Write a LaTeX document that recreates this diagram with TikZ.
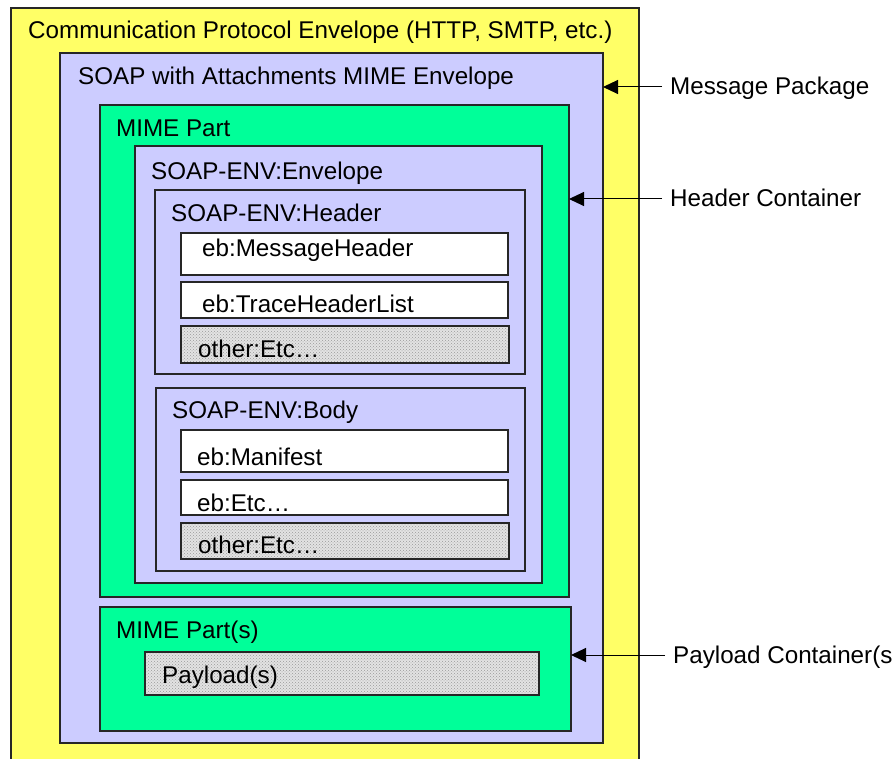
\documentclass[tikz,border=0pt]{standalone}
\usepackage{fontspec}
\setmainfont{Liberation Sans}
\usetikzlibrary{arrows.meta,patterns}

\definecolor{envyellow}{RGB}{255,255,102}
\definecolor{envlavender}{RGB}{204,204,255}
\definecolor{mimegreen}{RGB}{0,255,153}

\tikzset{
  box/.style={draw=black!85, line width=1.2pt, inner sep=0pt, outer sep=0pt, anchor=north west},
  dotbox/.style={box, preaction={fill=gray!22}, pattern=crosshatch dots, pattern color=gray!80},
  title/.style={anchor=base west, inner sep=0pt, font=\fontsize{24.2}{29}\selectfont},
  callout/.style={anchor=west, inner xsep=8pt, inner ysep=0pt, text height=17pt, text depth=1pt,
                  font=\fontsize{24.2}{29}\selectfont},
  pointer/.style={line width=1pt, -{Triangle[length=15pt,width=14pt]}}
}

\begin{document}
\begin{tikzpicture}[x=1pt, y=-1pt]
  \useasboundingbox (0,0) rectangle (892,759);
  \clip (0,0) rectangle (892,759);

  % nested envelopes
  \node[box, fill=envyellow, minimum width=628pt, minimum height=800pt] (proto) at (11,8) {};
  \node[box, fill=envlavender, minimum width=543pt, minimum height=690pt] (attach) at (60,53) {};
  \node[box, fill=mimegreen, minimum width=469pt, minimum height=492pt] (mime) at (100,105) {};
  \node[box, fill=envlavender, minimum width=407pt, minimum height=437pt] (envelope) at (135,146) {};
  \node[box, fill=envlavender, minimum width=370pt, minimum height=184pt] (header) at (155,190) {};
  \node[box, fill=white, minimum width=327pt, minimum height=42pt] (msghdr) at (181,233) {};
  \node[box, fill=white, minimum width=327pt, minimum height=36pt] (trace) at (181,282) {};
  \node[dotbox, minimum width=328pt, minimum height=37pt] (otherh) at (181,326) {};
  \node[box, fill=envlavender, minimum width=369pt, minimum height=183pt] (body) at (156,388) {};
  \node[box, fill=white, minimum width=327pt, minimum height=42pt] (manifest) at (181,430) {};
  \node[box, fill=white, minimum width=327pt, minimum height=35pt] (ebetc) at (181,480) {};
  \node[dotbox, minimum width=328pt, minimum height=36pt] (otherb) at (181,523) {};
  \node[box, fill=mimegreen, minimum width=471pt, minimum height=124pt] (mimes) at (100,607) {};
  \node[dotbox, minimum width=394pt, minimum height=43pt] (payload) at (145,652) {};

  % box titles
  \node[title] (tproto) at (28,39) {Communication Protocol Envelope (HTTP, SMTP, etc.)};
  \node[title] (tattach) at (78,85) {SOAP with Attachments MIME Envelope};
  \node[title] (tmime) at (116,137) {MIME Part};
  \node[title] (tenvelope) at (151,180) {SOAP-ENV:Envelope};
  \node[title] (theader) at (171,222) {SOAP-ENV:Header};
  \node[title] (tmsghdr) at (202,257) {eb:MessageHeader};
  \node[title] (ttrace) at (202,313) {eb:TraceHeaderList};
  \node[title] (totherh) at (198,358) {other:Etc…};
  \node[title] (tbody) at (172,418) {SOAP-ENV:Body};
  \node[title] (tmanifest) at (197,465) {eb:Manifest};
  \node[title] (tebetc) at (197,511) {eb:Etc…};
  \node[title] (totherb) at (198,553) {other:Etc…};
  \node[title] (tmimes) at (116,638) {MIME Part(s)};
  \node[title] (tpayload) at (162,683) {Payload(s)};

  % callouts on the right
  \node[callout] (lpackage) at (662,87) {Message Package};
  \node[callout] (lheader) at (662,199) {Header Container};
  \node[callout] (lpayload) at (665,655) {Payload Container(s};

  \draw[pointer] (lpackage.west) -- (attach.east |- lpackage.west);
  \draw[pointer] (lheader.west) -- (mime.east |- lheader.west);
  \draw[pointer] (lpayload.west) -- (mimes.east |- lpayload.west);
\end{tikzpicture}
\end{document}
